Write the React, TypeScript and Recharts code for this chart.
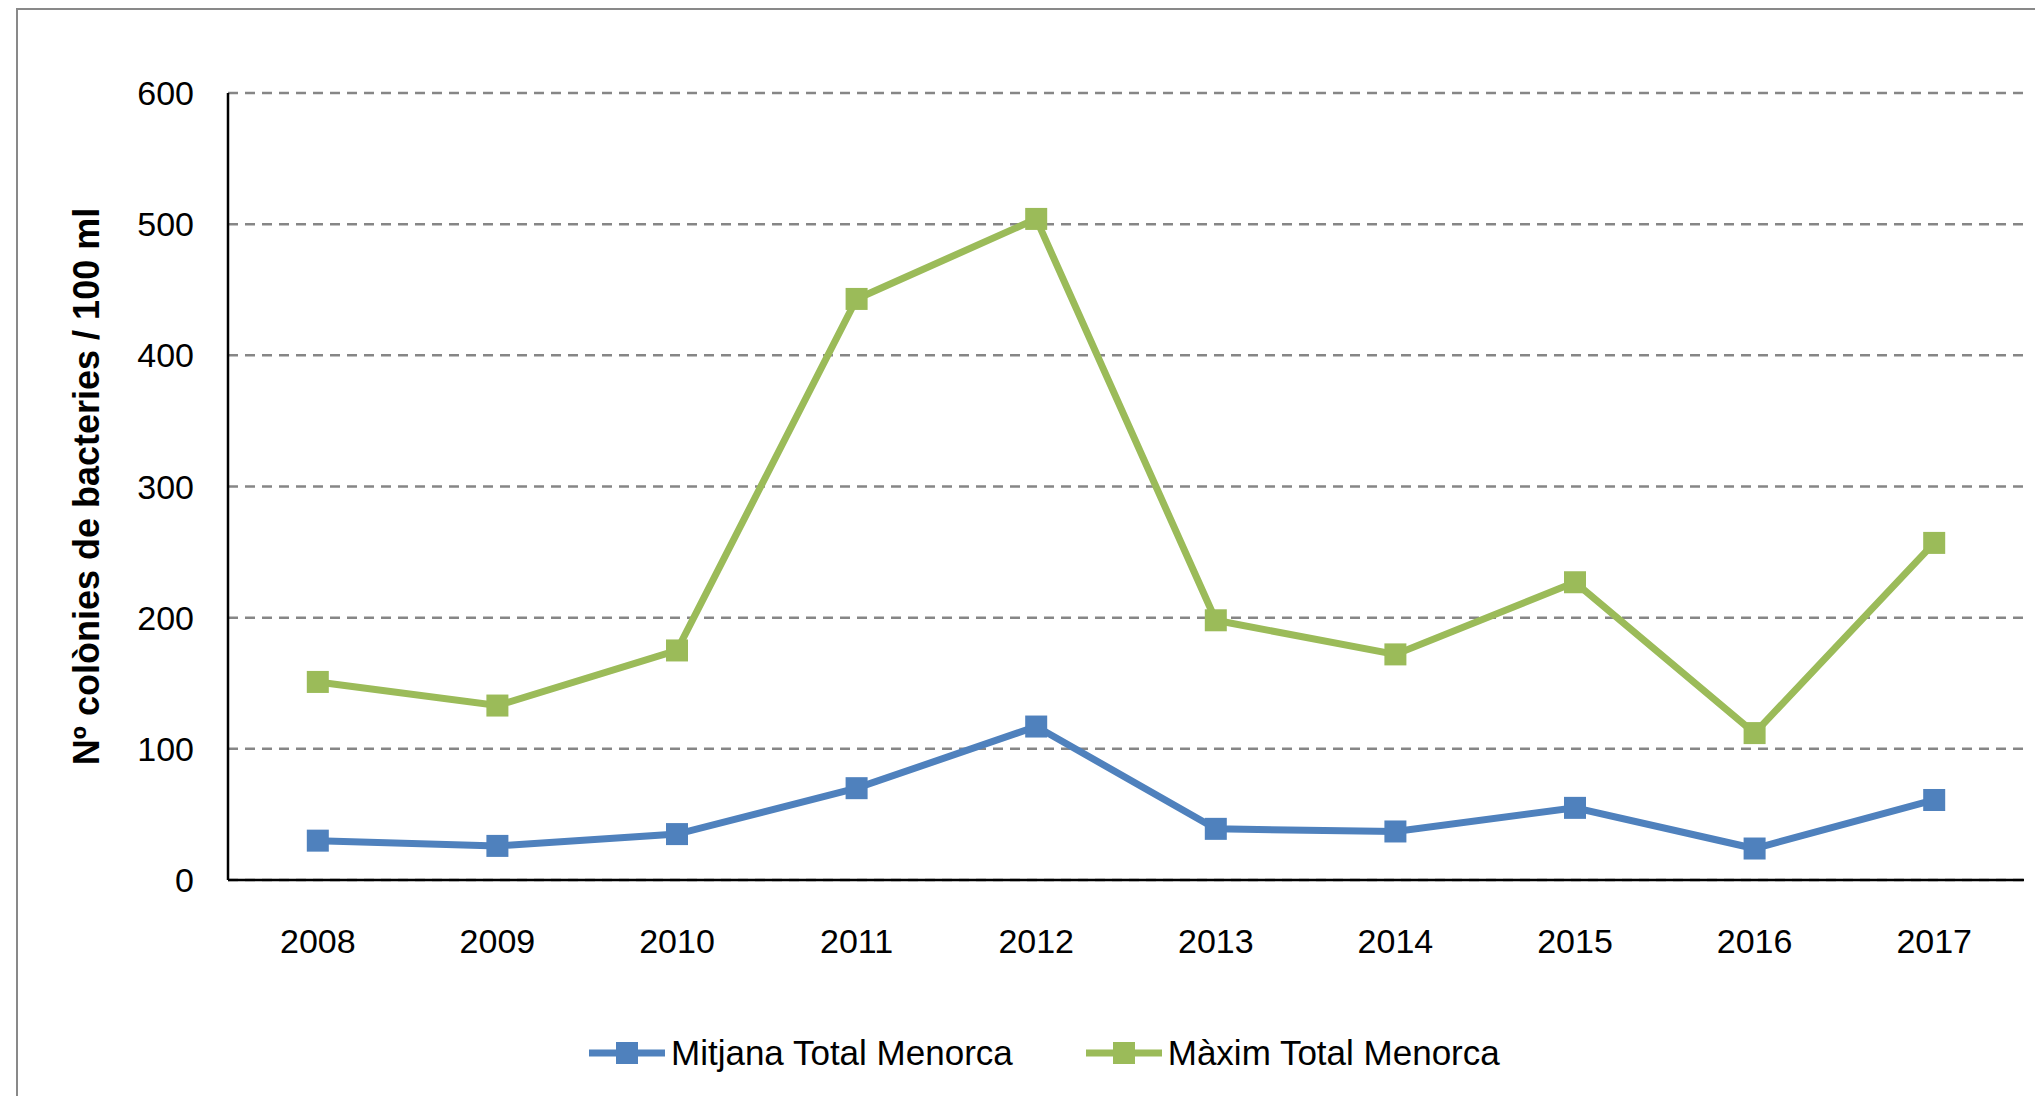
import React from 'react';
import { LineChart, Line, XAxis, YAxis, CartesianGrid, Legend } from 'recharts';

const years = ['2008', '2009', '2010', '2011', '2012', '2013', '2014', '2015', '2016', '2017'];
const mitjana = [30, 26, 35, 70, 117, 39, 37, 55, 24, 61];
const maxim = [151, 133, 175, 443, 504, 198, 172, 227, 112, 257];
const yTicks = [0, 100, 200, 300, 400, 500, 600];

const BLUE = '#4F81BD';
const GREEN = '#9BBB59';
const FONT = '"Liberation Sans", Arial, sans-serif';

const data = years.map((year, i) => ({ year, mitjana: mitjana[i], maxim: maxim[i] }));

const squareDot = (color: string) => (props: any) => {
  const { cx, cy, index } = props;
  return <rect key={index} x={cx - 11} y={cy - 11} width={22} height={22} fill={color} />;
};

const YTitle = (props: any) => {
  const { viewBox } = props;
  const x = viewBox.x - 22;
  const y = viewBox.y + viewBox.height / 2;
  return (
    <text
      x={x}
      y={y}
      transform={`rotate(-90, ${x}, ${y})`}
      textAnchor="middle"
      dominantBaseline="central"
      fontFamily={FONT}
      fontSize={36}
      fontWeight="bold"
      fill="#000"
    >
      Nº colònies de bacteries / 100 ml
    </text>
  );
};

const LegendContent = (props: any) => {
  const { payload } = props;
  return (
    <div style={{ display: 'flex', alignItems: 'center', height: 40, paddingLeft: 581, fontFamily: FONT, fontSize: 35, color: '#000' }}>
      {(payload || []).map((entry: any) => (
        <div key={entry.value} style={{ display: 'flex', alignItems: 'center', marginRight: 73 }}>
          <svg width={76} height={24}>
            <line x1={0} y1={12} x2={76} y2={12} stroke={entry.color} strokeWidth={7} strokeLinecap="round" />
            <rect x={27} y={1} width={22} height={22} fill={entry.color} />
          </svg>
          <span style={{ marginLeft: 6, whiteSpace: 'nowrap' }}>{entry.value}</span>
        </div>
      ))}
    </div>
  );
};

export default function App() {
  return (
    <div style={{ position: 'relative', width: 2027, height: 1088, overflow: 'hidden', background: '#fff' }}>
      <div
        style={{
          position: 'absolute',
          left: 8,
          top: 0,
          width: 3000,
          height: 3000,
          borderLeft: '2.5px solid #898989',
          borderTop: '2.5px solid #898989',
        }}
      />
      <div style={{ position: 'absolute', left: 0, top: 0 }}>
        <LineChart width={2027} height={1088} data={data} margin={{ top: 85, right: 11, left: 100, bottom: 116 }}>
          <CartesianGrid vertical={false} stroke="#868686" strokeWidth={2.5} strokeDasharray="10 7" />
          <XAxis
            dataKey="year"
            scale="band"
            height={60}
            axisLine={{ stroke: '#000', strokeWidth: 2.5 }}
            tickLine={false}
            tickMargin={43}
            tick={{ fill: '#000', fontSize: 34, fontFamily: FONT }}
          />
          <YAxis
            domain={[0, 600]}
            ticks={yTicks}
            width={120}
            axisLine={{ stroke: '#000', strokeWidth: 2.5 }}
            tickLine={false}
            tickMargin={28}
            tick={{ fill: '#000', fontSize: 34, fontFamily: FONT }}
            label={<YTitle />}
          />
          <Legend
            verticalAlign="bottom"
            wrapperStyle={{ left: 0, top: 1025, width: 2027, height: 40 }}
            content={<LegendContent />}
          />
          <Line
            name="Mitjana Total Menorca"
            dataKey="mitjana"
            stroke={BLUE}
            strokeWidth={7}
            dot={squareDot(BLUE)}
            activeDot={false}
            isAnimationActive={false}
          />
          <Line
            name="Màxim Total Menorca"
            dataKey="maxim"
            stroke={GREEN}
            strokeWidth={7}
            dot={squareDot(GREEN)}
            activeDot={false}
            isAnimationActive={false}
          />
        </LineChart>
      </div>
    </div>
  );
}
